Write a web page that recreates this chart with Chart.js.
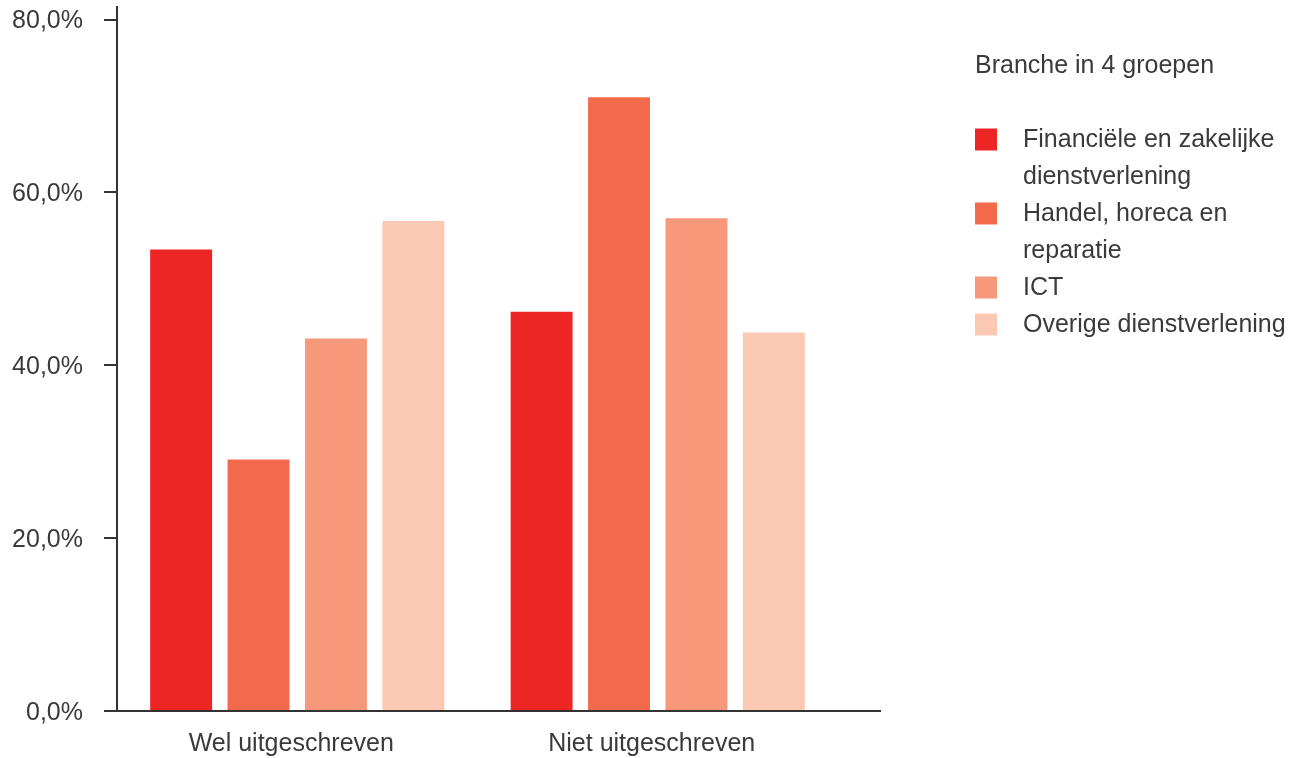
<!DOCTYPE html>
<html>
<head>
<meta charset="utf-8">
<script src="https://cdn.jsdelivr.net/npm/chart.js@4.4.1/dist/chart.umd.min.js"></script>
<style>
  html, body { margin: 0; padding: 0; background: #ffffff; }
  #wrap { width: 1297px; height: 758px; position: relative; }
</style>
</head>
<body>
<div id="wrap"><canvas id="c" width="1297" height="758"></canvas></div>
<script>
const categories = ["Wel uitgeschreven", "Niet uitgeschreven"];
const seriesLabels = ["Financiële en zakelijke dienstverlening", "Handel, horeca en reparatie", "ICT", "Overige dienstverlening"];
const legendLines = [["Financiële en zakelijke", "dienstverlening"], ["Handel, horeca en", "reparatie"], ["ICT"], ["Overige dienstverlening"]];
const legendTitle = "Branche in 4 groepen";
const financieel = [53.4, 46.2];
const handel = [29.1, 71.0];
const ict = [43.1, 57.0];
const overige = [56.7, 43.8];
const seriesColors = ["#ED2524", "#F26A4B", "#F6997B", "#FBC8B4"];
const yTicks = [0, 20, 40, 60, 80];

const FONT = "'Liberation Sans', Arial, sans-serif";
const FS = 25;
const TEXT = "#3a3a3a";
const AXIS = "#333333";

const seriesValues = [financieel, handel, ict, overige];

const axisPlugin = {
  id: 'axisLines',
  afterDraw(chart) {
    const ctx = chart.ctx;
    const a = chart.chartArea;
    ctx.save();
    ctx.strokeStyle = AXIS;
    ctx.lineWidth = 2;
    ctx.beginPath();
    ctx.moveTo(a.left, a.top - 13.5);
    ctx.lineTo(a.left, a.bottom);
    ctx.moveTo(a.left - 10, a.bottom);
    ctx.lineTo(a.right + 43, a.bottom);
    ctx.stroke();
    ctx.restore();
  }
};

const legendPlugin = {
  id: 'customLegend',
  afterDraw(chart) {
    const ctx = chart.ctx;
    ctx.save();
    ctx.font = FS + "px " + FONT;
    ctx.fillStyle = TEXT;
    ctx.textBaseline = 'middle';
    ctx.textAlign = 'left';
    const x0 = 975;
    ctx.fillText(legendTitle, x0, 66);
    let y = 140;
    const lh = 37;
    chart.data.datasets.forEach((ds, i) => {
      ctx.fillStyle = ds.backgroundColor;
      ctx.fillRect(x0, y - 11.5, 22, 22);
      ctx.fillStyle = TEXT;
      legendLines[i].forEach((ln) => {
        ctx.fillText(ln, 1023, y);
        y += lh;
      });
    });
    ctx.restore();
  }
};

new Chart(document.getElementById('c'), {
  type: 'bar',
  data: {
    labels: categories,
    datasets: seriesLabels.map((lab, i) => ({
      label: lab,
      data: seriesValues[i],
      backgroundColor: seriesColors[i],
      borderWidth: 0,
      categoryPercentage: 0.859,
      barPercentage: 0.8
    }))
  },
  options: {
    responsive: false,
    animation: false,
    devicePixelRatio: 1,
    layout: { padding: { top: 19.5, right: 459, bottom: 0, left: 0 } },
    plugins: {
      legend: { display: false },
      tooltip: { enabled: false }
    },
    scales: {
      x: {
        grid: { display: false, drawTicks: false },
        border: { display: false },
        ticks: { color: TEXT, font: { family: FONT, size: FS }, padding: 18, labelOffset: -6 },
        afterFit(scale) { scale.height = 47; }
      },
      y: {
        min: 0,
        max: 80,
        afterBuildTicks(scale) { scale.ticks = yTicks.map(v => ({ value: v })); },
        grid: { drawOnChartArea: false, drawTicks: true, tickLength: 13, color: AXIS, lineWidth: 2 },
        border: { display: false },
        ticks: {
          color: TEXT,
          font: { family: FONT, size: FS },
          padding: 21,
          labelOffset: 2,
          callback: (v) => v.toFixed(1).replace('.', ',') + '%'
        },
        afterFit(scale) { scale.width = 117; scale.paddingTop = 0; scale.paddingBottom = 0; }
      }
    }
  },
  plugins: [axisPlugin, legendPlugin]
});
</script>
</body>
</html>
